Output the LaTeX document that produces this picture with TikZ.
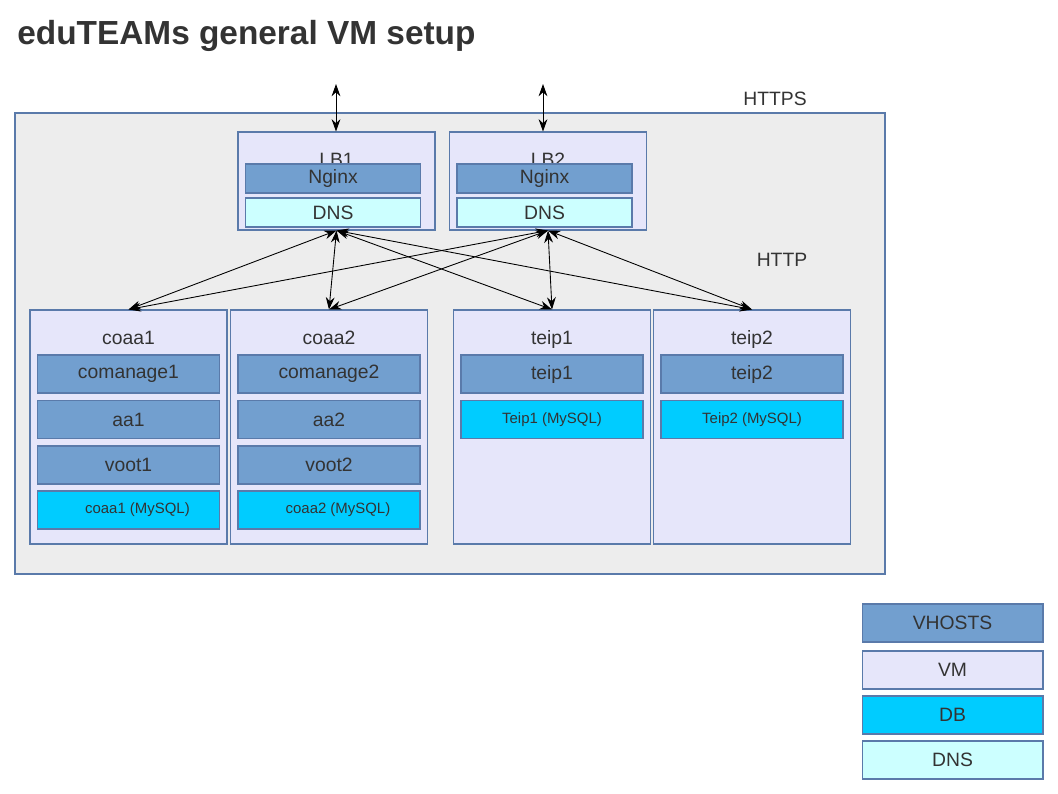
\documentclass[tikz,border=0pt]{standalone}
\usepackage{fontspec}
\setmainfont{Liberation Sans}
\usetikzlibrary{positioning,arrows.meta}
\definecolor{txt}{HTML}{333333}
\definecolor{edge}{HTML}{5A7AAA}
\definecolor{vhost}{HTML}{729FCF}
\definecolor{vmfill}{HTML}{E6E6FA}
\definecolor{dbfill}{HTML}{00CCFF}
\definecolor{dnsfill}{HTML}{CCFFFF}
\tikzset{
  box/.style={draw=edge, line width=0.6pt, inner sep=0pt, text=txt, font=\fontsize{11}{13}\selectfont},
  vm/.style={box, fill=vmfill, minimum width=3.94cm, minimum height=4.68cm},
  lb/.style={box, fill=vmfill, minimum width=3.94cm, minimum height=1.96cm},
  vhost/.style={box, fill=vhost, minimum width=3.64cm, minimum height=0.76cm},
  db/.style={box, fill=dbfill, minimum width=3.64cm, minimum height=0.76cm, font=\fontsize{8.5}{10}\selectfont},
  dns/.style={box, fill=dnsfill, minimum width=3.5cm, minimum height=0.58cm},
  lbhost/.style={box, fill=vhost, minimum width=3.5cm, minimum height=0.58cm},
  legend/.style={box, minimum width=3.62cm, minimum height=0.76cm},
  lbl/.style={text=txt, font=\fontsize{11}{13}\selectfont, inner sep=0pt},
  link/.style={{Stealth[length=7pt,width=5pt]}-{Stealth[length=7pt,width=5pt]}, line width=0.5pt}
}
\begin{document}
\begin{tikzpicture}[x=0.02cm, y=-0.02cm]
\useasboundingbox (0,0) rectangle (1058,794);
% title
\node[anchor=west, text=txt, font=\fontsize{19}{22}\selectfont\bfseries, inner sep=0pt] (title) at (17,36) {eduTEAMs general VM setup};
% outer area
\draw[draw=edge, fill=black!7, line width=0.6pt] (15,113) rectangle (885,574);
\node[lbl] (https) at (775,99) {HTTPS};
\node[lbl] (http) at (782,260) {HTTP};
% load balancers
\node[lb] (lb1) at (336.5,181) {};
\node[lbl, below=12pt of lb1.north] {LB1};
\node[lbhost] (ng1) at (333,178.5) {Nginx};
\node[dns] (dns1) at (333,212.5) {DNS};
\node[lb] (lb2) at (548,181) {};
\node[lbl, below=12pt of lb2.north] {LB2};
\node[lbhost] (ng2) at (544.5,178.5) {Nginx};
\node[dns] (dns2) at (544.5,212.5) {DNS};
% VMs
\node[vm] (coaa1) at (128.5,427) {};
\node[lbl, below=12pt of coaa1.north] {coaa1};
\node[vhost] (com1) at (128.5,374) {comanage1};
\node[vhost] (aa1) at (128.5,419.5) {aa1};
\node[vhost] (voot1) at (128.5,465) {voot1};
\node[db] (db1) at (128.5,510) {\hspace{1.2em}coaa1 (MySQL)};
\node[vm] (coaa2) at (329,427) {};
\node[lbl, below=12pt of coaa2.north] {coaa2};
\node[vhost] (com2) at (329,374) {comanage2};
\node[vhost] (aa2) at (329,419.5) {aa2};
\node[vhost] (voot2) at (329,465) {voot2};
\node[db] (db2) at (329,510) {\hspace{1.2em}coaa2 (MySQL)};
\node[vm] (teip1) at (552,427) {};
\node[lbl, below=12pt of teip1.north] {teip1};
\node[vhost] (th1) at (552,374) {teip1};
\node[db] (tdb1) at (552,419.5) {Teip1 (MySQL)};
\node[vm] (teip2) at (752,427) {};
\node[lbl, below=12pt of teip2.north] {teip2};
\node[vhost] (th2) at (752,374) {teip2};
\node[db] (tdb2) at (752,419.5) {Teip2 (MySQL)};
% connectors
\coordinate (in1) at (336,84);
\coordinate (in2) at (543,84);
\draw[link] (in1) -- (lb1.north -| in1);
\draw[link] (in2) -- (lb2.north -| in2);
\foreach \vm in {coaa1,coaa2,teip1,teip2}{
  \draw[link] (lb1.south) -- (\vm.north);
  \draw[link] (lb2.south) -- (\vm.north);
}
% legend
\node[legend, fill=vhost] (lgh) at (952.5,623) {VHOSTS};
\node[legend, fill=vmfill] (lgv) at (952.5,670) {VM};
\node[legend, fill=dbfill] (lgd) at (952.5,715) {DB};
\node[legend, fill=dnsfill] (lgn) at (952.5,760) {DNS};
\end{tikzpicture}
\end{document}
